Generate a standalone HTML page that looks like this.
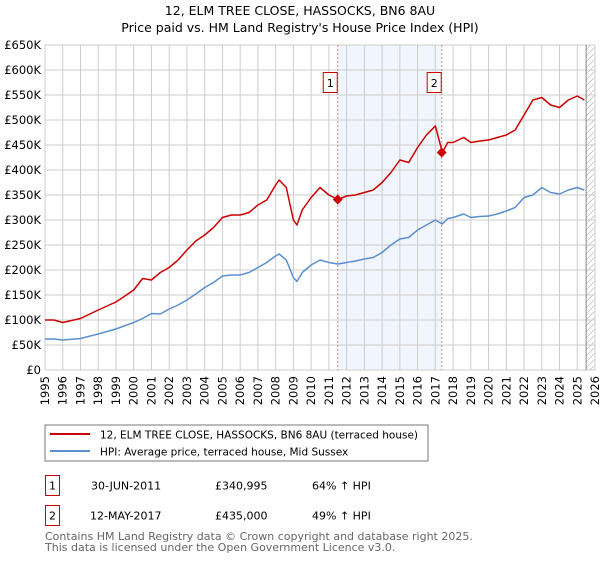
<!DOCTYPE html>
<html><head><meta charset="utf-8"><style>
body{margin:0;background:#fff;font-family:"Liberation Sans","DejaVu Sans",sans-serif}
svg text{font-family:"DejaVu Sans","Liberation Sans",sans-serif}
</style></head><body>
<svg id="c" width="600" height="560" xmlns="http://www.w3.org/2000/svg">
<text x="300" y="15" font-size="12.5" text-anchor="middle">12, ELM TREE CLOSE, HASSOCKS, BN6 8AU</text>
<text x="300" y="32" font-size="12.5" text-anchor="middle">Price paid vs. HM Land Registry's House Price Index (HPI)</text>
<defs><pattern id="h" width="6" height="6" patternUnits="userSpaceOnUse"><path d="M0,6 L6,0" stroke="#bbb" stroke-width="0.7"/></pattern></defs>
<g id="grid"></g><g id="marks"></g><g id="axes"></g>
<rect x="45" y="425" width="383" height="36" fill="#fff" stroke="#777"/>
<line x1="50" y1="434" x2="90" y2="434" stroke="#cc0000" stroke-width="2"/>
<text x="100" y="438.5" font-size="10.5">12, ELM TREE CLOSE, HASSOCKS, BN6 8AU (terraced house)</text>
<line x1="50" y1="451" x2="90" y2="451" stroke="#5b8fd0" stroke-width="2"/>
<text x="100" y="455.5" font-size="10.5">HPI: Average price, terraced house, Mid Sussex</text>
<g font-size="11">
<rect x="45.5" y="475.5" width="14" height="20" fill="none" stroke="#cc0000"/>
<text x="52.5" y="489.5" text-anchor="middle">1</text>
<text x="91" y="489.5">30-JUN-2011</text>
<text x="215" y="489.5">£340,995</text>
<text x="312" y="489.5">64% ↑ HPI</text>
<rect x="45.5" y="505.5" width="14" height="20" fill="none" stroke="#cc0000"/>
<text x="52.5" y="519.5" text-anchor="middle">2</text>
<text x="90" y="519.5">12-MAY-2017</text>
<text x="215" y="519.5">£435,000</text>
<text x="312" y="519.5">49% ↑ HPI</text>
</g>
<text x="45" y="540" font-size="11" fill="#666">Contains HM Land Registry data © Crown copyright and database right 2025.</text>
<text x="45" y="551" font-size="11" fill="#666">This data is licensed under the Open Government Licence v3.0.</text>
</svg>
<script>
const yearTicks=[1995,1996,1997,1998,1999,2000,2001,2002,2003,2004,2005,2006,2007,2008,2009,2010,2011,2012,2013,2014,2015,2016,2017,2018,2019,2020,2021,2022,2023,2024,2025,2026];
const priceTicks=[0,50,100,150,200,250,300,350,400,450,500,550,600,650];
const priceTickLabels=["£0","£50K","£100K","£150K","£200K","£250K","£300K","£350K","£400K","£450K","£500K","£550K","£600K","£650K"];
const hpiDates=[1995,1995.5,1996,1997,1998,1999,2000,2000.5,2001,2001.5,2002,2002.5,2003,2003.5,2004,2004.5,2005,2005.5,2006,2006.5,2007,2007.5,2008,2008.2,2008.6,2009,2009.2,2009.5,2010,2010.5,2011,2011.5,2012,2012.5,2013,2013.5,2014,2014.5,2015,2015.5,2016,2016.5,2017,2017.4,2017.7,2018,2018.6,2019,2019.5,2020,2020.5,2021,2021.5,2022,2022.5,2023,2023.5,2024,2024.5,2025,2025.4];
const hpiValues=[62,62,60,63,72,82,95,103,113,112,122,130,140,152,165,175,188,190,190,195,205,215,228,232,220,185,177,195,210,220,215,212,215,218,222,225,235,250,262,265,280,290,300,292,303,305,312,305,307,308,312,318,325,345,350,365,355,352,360,365,360];
const priceValues=[100,100,95,103,120,136,160,183,180,195,205,220,240,258,270,285,305,310,310,315,330,340,370,380,365,300,290,320,345,365,350,341,348,350,355,360,375,395,420,415,445,470,488,435,455,455,465,455,458,460,465,470,480,510,540,545,530,525,540,548,540];
const saleDates=[2011.5,2017.36];
const salePrices=[340.995,435];
const saleLabels=["1","2"];
const X0=45,X1=595,Y0=370,Y1=45;
const xs=y=>X0+(y-1995)/(2026-1995)*(X1-X0);
const ys=v=>Y0-v/650*(Y0-Y1);
const NS="http://www.w3.org/2000/svg";
function mk(t,a,p){const e=document.createElementNS(NS,t);for(const k in a)e.setAttribute(k,a[k]);p.appendChild(e);return e;}
const G=document.getElementById('grid'),M=document.getElementById('marks'),A=document.getElementById('axes');
let sh=mk('rect',{x:xs(saleDates[0]),y:Y1,width:xs(saleDates[1])-xs(saleDates[0]),height:Y0-Y1,fill:'#eef3fc',opacity:0.8},G);


let ht=mk('rect',{x:xs(2025.5),y:Y1,width:X1-xs(2025.5),height:Y0-Y1,fill:'url(#h)'},G);


yearTicks.forEach(y=>{const l=mk('line',{x1:xs(y),x2:xs(y),y1:Y1,y2:Y0,stroke:'#ccc'},G);


const t=mk('text',{x:0,y:0,'font-size':11.5,'text-anchor':'end',transform:`translate(${xs(y)+4},${Y0+6}) rotate(-90)`},A);t.textContent=y;

});
priceTicks.forEach((v,i)=>{const l=mk('line',{x1:X0,x2:X1,y1:ys(v),y2:ys(v),stroke:'#ccc'},G);


const t=mk('text',{x:41,y:ys(v)+4,'font-size':11.5,'text-anchor':'end'},A);t.textContent=priceTickLabels[i];

});
let vl=mk('line',{x1:xs(2025.5),x2:xs(2025.5),y1:Y1,y2:Y0,stroke:'#888'},G);


saleDates.forEach((d,i)=>{const l=mk('line',{x1:xs(d),x2:xs(d),y1:Y1,y2:Y0,stroke:'#f08080','stroke-dasharray':'2,2'},M);


const r=mk('rect',{x:xs(d)-14.5,y:72.5,width:14,height:20,fill:'#fff',stroke:'#cc0000'},M);


const t=mk('text',{x:xs(d)-7.5,y:87,'font-size':11,'text-anchor':'middle'},M);t.textContent=saleLabels[i];

});
const line=(vals,col,name)=>{const p=mk('polyline',{points:hpiDates.map((d,i)=>xs(d)+','+ys(vals[i])).join(' '),fill:'none',stroke:col,'stroke-width':1.5,'stroke-linejoin':'round'},M);

};
line(hpiValues,'#5b8fd0','hpi-line');
line(priceValues,'#cc0000','price-line');
saleDates.forEach((d,i)=>{const cx=xs(d),cy=ys(salePrices[i]);
const c=mk('rect',{x:cx-3.5,y:cy-3.5,width:7,height:7,fill:'#cc0000',transform:`rotate(45 ${cx} ${cy})`},M);

});
</script>
</body></html>
